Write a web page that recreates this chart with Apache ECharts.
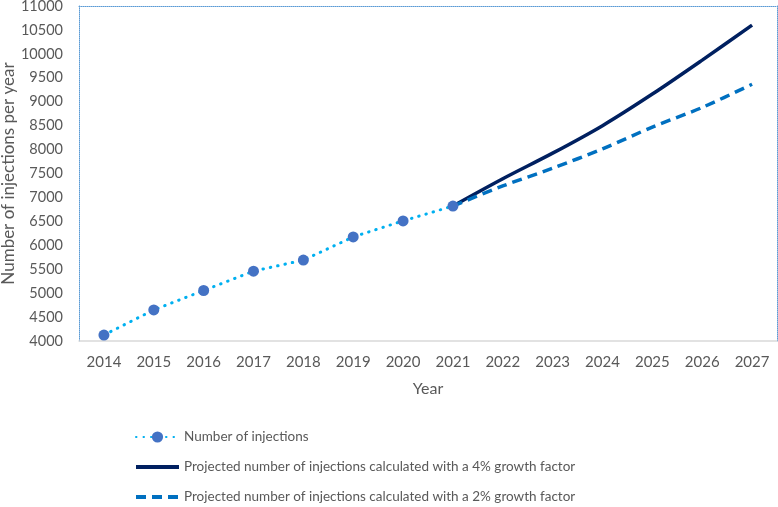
<!DOCTYPE html>
<html><head><meta charset="utf-8">
<script src="https://cdn.jsdelivr.net/npm/echarts@6/dist/echarts.min.js"></script>
<style>html,body{margin:0;padding:0;background:#fff}#c{width:778px;height:507px}</style>
</head><body><div id="c"></div>
<script>
const years = ['2014','2015','2016','2017','2018','2019','2020','2021','2022','2023','2024','2025','2026','2027'];
const injections = [4125, 4650, 5055, 5460, 5690, 6175, 6510, 6820, null, null, null, null, null, null];
const growth4 = [null, null, null, null, null, null, null, 6820, 7390, 7925, 8500, 9160, 9870, 10600];
const growth2 = [null, null, null, null, null, null, null, 6820, 7240, 7610, 8015, 8470, 8880, 9365];
const yTicks = [4000, 11000, 500];

const font = 'Lato';
const txt = '#595959';
const chart = echarts.init(document.getElementById('c'));
chart.setOption({
  animation: false,
  textStyle: {fontFamily: font},
  grid: {left: 79, right: 1, top: 6, bottom: 166, containLabel: false, outerBoundsMode: 'none'},
  legend: {
    orient: 'vertical', left: 134, top: 430, padding: 0, height: 80, itemWidth: 43, itemHeight: 14, itemGap: 16,
    textStyle: {color: txt, fontSize: 13.5, fontFamily: font},
    data: [
      {name: 'Number of injections'},
      {name: 'Projected number of injections calculated with a 4% growth factor', itemStyle: {opacity: 0}, lineStyle: {width: 4}},
      {name: 'Projected number of injections calculated with a 2% growth factor', itemStyle: {opacity: 0}, lineStyle: {width: 4}}
    ]
  },
  xAxis: [{
    type: 'category', data: years, boundaryGap: true,
    name: 'Year', nameLocation: 'middle', nameGap: 40,
    nameTextStyle: {color: txt, fontSize: 16, fontFamily: font},
    axisLine: {lineStyle: {color: '#d9d9d9', width: 1.5}},
    axisTick: {show: false},
    axisLabel: {color: txt, fontSize: 15, margin: 14, fontFamily: font},
    splitLine: {show: false}
  }, {
    type: 'category', data: years, position: 'top',
    axisLine: {lineStyle: {color: '#5b9bd5', type: 'dotted', width: 1}},
    axisTick: {show: false}, axisLabel: {show: false}
  }],
  yAxis: [{
    type: 'value', min: yTicks[0], max: yTicks[1], interval: yTicks[2],
    name: 'Number of injections per year', nameLocation: 'middle', nameGap: 62, nameRotate: 90,
    nameMoveOverlap: false,
    nameTextStyle: {color: txt, fontSize: 17, fontFamily: font},
    axisLine: {show: true, lineStyle: {color: '#5b9bd5', type: 'dotted', width: 1}},
    axisTick: {show: false},
    axisLabel: {color: txt, fontSize: 14.5, margin: 16, fontFamily: font, formatter: v => String(v)},
    splitLine: {show: false}
  }, {
    type: 'value', min: yTicks[0], max: yTicks[1], interval: yTicks[2], position: 'right',
    axisLine: {show: true, lineStyle: {color: '#5b9bd5', type: 'dotted', width: 1}},
    axisTick: {show: false}, axisLabel: {show: false}, splitLine: {show: false}
  }],
  series: [{
    name: 'Number of injections', type: 'line', data: injections,
    symbol: 'circle', symbolSize: 11, showSymbol: true,
    itemStyle: {color: '#4472c4'},
    lineStyle: {color: '#00b0f0', width: 3, type: [0.5, 7], cap: 'round'},
    z: 3
  }, {
    name: 'Projected number of injections calculated with a 4% growth factor', type: 'line', data: growth4,
    symbol: 'none', smooth: 0.3,
    itemStyle: {color: '#002060'},
    lineStyle: {color: '#002060', width: 3.5}
  }, {
    name: 'Projected number of injections calculated with a 2% growth factor', type: 'line', data: growth2,
    symbol: 'none', smooth: 0.3,
    itemStyle: {color: '#0070c0'},
    lineStyle: {color: '#0070c0', width: 3.5, type: [10, 6]}
  }]
});
</script></body></html>
